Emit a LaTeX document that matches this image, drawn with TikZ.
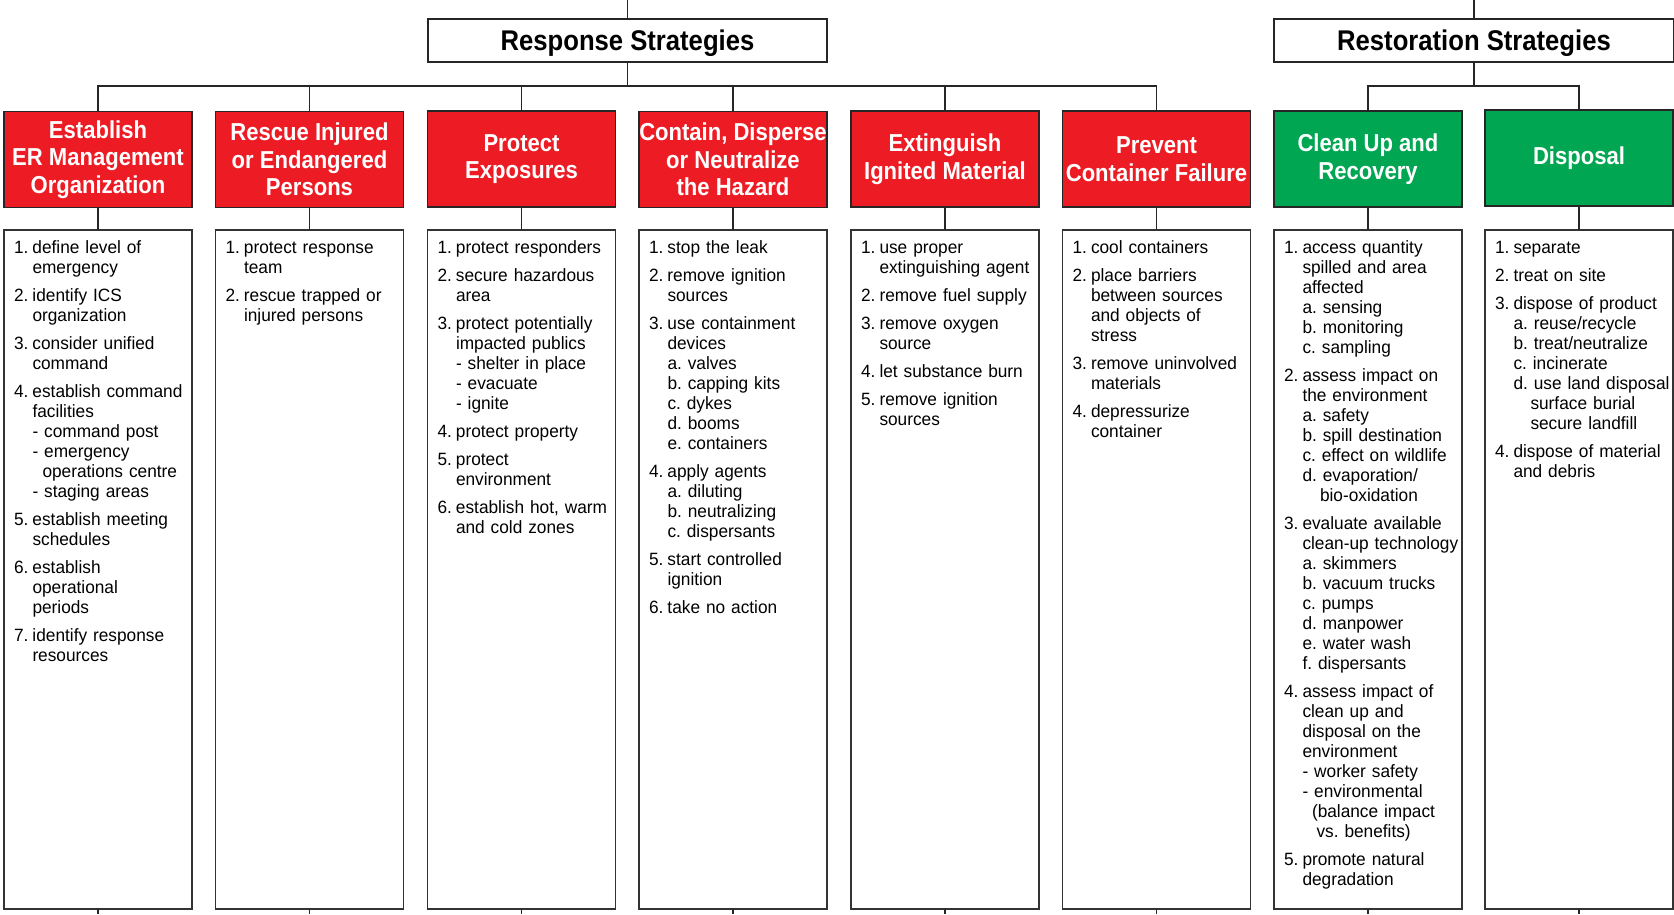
\documentclass[tikz,border=0pt]{standalone}
\usepackage{fontspec}
\usepackage{tikz}
\usetikzlibrary{positioning}
\setmainfont{Liberation Sans}
\newfontfamily\headfont{Liberation Sans}[FakeStretch=0.9]
\newfontfamily\listfont{Liberation Sans}[FakeStretch=0.97]
\definecolor{ered}{RGB}{237,28,36}
\definecolor{egreen}{RGB}{0,166,81}
\newcommand{\itm}[2]{\par\hangindent=18.5pt\hangafter=1\noindent\makebox[18.5pt][l]{\rule{0pt}{13pt}#1}{\let\\\newline#2}\par\vspace{8pt}}
\newcommand{\ind}[1]{\hspace*{#1pt}}

\begin{document}
\begin{tikzpicture}[x=1pt, y=-1pt,
  every node/.style={inner sep=0pt, outer sep=0pt},
  line/.style={draw=black!85, line width=1.3pt},
  titlebox/.style={draw=black!85, line width=1.5pt, fill=white, minimum height=43pt,
    text height=20.5pt, text depth=0pt,
    font=\headfont\bfseries\fontsize{28.5}{30}\selectfont},
  headbox/.style={draw=black!85, line width=1.5pt, minimum width=188pt, minimum height=96pt,
    text=white, align=center, font=\headfont\bfseries\fontsize{24.5}{27.5}\selectfont},
  redhead/.style={headbox, fill=ered},
  greenhead/.style={headbox, fill=egreen},
  listbox/.style={draw=black!80, line width=1.3pt, minimum width=188pt, minimum height=679pt},
  listtext/.style={below right=3pt and 10pt of #1, text width=200pt,
    font=\listfont\fontsize{17.8}{20}\selectfont\frenchspacing}]
\fill[white] (0,0) rectangle (1674,914);
\useasboundingbox (0,0) rectangle (1674,914);

\node[titlebox, minimum width=399pt] (rs) at (627.5,40.5) {Response Strategies};
\node[titlebox, minimum width=400pt] (rt) at (1474,40.5) {Restoration Strategies};

\node[redhead] (h1) at (98,159.5) {Establish\\ER Management\\Organization};
\node[redhead] (h2) at (309.5,159.5) {Rescue Injured\\or Endangered\\Persons};
\node[redhead] (h3) at (521.5,159) {Protect\\Exposures};
\node[redhead] (h4) at (733,159.5) {Contain, Disperse\\or Neutralize\\the Hazard};
\node[redhead] (h5) at (945,159) {Extinguish\\Ignited Material};
\node[redhead] (h6) at (1156.5,159) {Prevent\\Container Failure};
\node[greenhead] (h7) at (1368,159) {Clean Up and\\Recovery};
\node[greenhead] (h8) at (1579,158) {Disposal};

\node[listbox] (b1) at (98,569.5) {};
\node[listbox] (b2) at (309.5,569.5) {};
\node[listbox] (b3) at (521.5,569.5) {};
\node[listbox] (b4) at (733,569.5) {};
\node[listbox] (b5) at (945,569.5) {};
\node[listbox] (b6) at (1156.5,569.5) {};
\node[listbox] (b7) at (1368,569.5) {};
\node[listbox] (b8) at (1579,569.5) {};

\node[listtext=b1.north west] (t1) {
  \itm{1.}{define level of\\emergency}
  \itm{2.}{identify ICS\\organization}
  \itm{3.}{consider unified\\command}
  \itm{4.}{establish command\\facilities\\- command post\\- emergency\\\ind{10}operations centre\\- staging areas}
  \itm{5.}{establish meeting\\schedules}
  \itm{6.}{establish\\operational\\periods}
  \itm{7.}{identify response\\resources}};
\node[listtext=b2.north west] (t2) {
  \itm{1.}{protect response\\team}
  \itm{2.}{rescue trapped or\\injured persons}};
\node[listtext=b3.north west] (t3) {
  \itm{1.}{protect responders}
  \itm{2.}{secure hazardous\\area}
  \itm{3.}{protect potentially\\impacted publics\\- shelter in place\\- evacuate\\- ignite}
  \itm{4.}{protect property}
  \itm{5.}{protect\\environment}
  \itm{6.}{establish hot, warm\\and cold zones}};
\node[listtext=b4.north west] (t4) {
  \itm{1.}{stop the leak}
  \itm{2.}{remove ignition\\sources}
  \itm{3.}{use containment\\devices\\a. valves\\b. capping kits\\c. dykes\\d. booms\\e. containers}
  \itm{4.}{apply agents\\a. diluting\\b. neutralizing\\c. dispersants}
  \itm{5.}{start controlled\\ignition}
  \itm{6.}{take no action}};
\node[listtext=b5.north west] (t5) {
  \itm{1.}{use proper\\extinguishing agent}
  \itm{2.}{remove fuel supply}
  \itm{3.}{remove oxygen\\source}
  \itm{4.}{let substance burn}
  \itm{5.}{remove ignition\\sources}};
\node[listtext=b6.north west] (t6) {
  \itm{1.}{cool containers}
  \itm{2.}{place barriers\\between sources\\and objects of\\stress}
  \itm{3.}{remove uninvolved\\materials}
  \itm{4.}{depressurize\\container}};
\node[listtext=b7.north west] (t7) {
  \itm{1.}{access quantity\\spilled and area\\affected\\a. sensing\\b. monitoring\\c. sampling}
  \itm{2.}{assess impact on\\the environment\\a. safety\\b. spill destination\\c. effect on wildlife\\d. evaporation/\\\ind{17.5}bio-oxidation}
  \itm{3.}{evaluate available\\clean-up technology\\a. skimmers\\b. vacuum trucks\\c. pumps\\d. manpower\\e. water wash\\f. dispersants}
  \itm{4.}{assess impact of\\clean up and\\disposal on the\\environment\\- worker safety\\- environmental\\\ind{9.5}(balance impact\\\ind{14}vs. benefits)}
  \itm{5.}{promote natural\\degradation}};
\node[listtext=b8.north west] (t8) {
  \itm{1.}{separate}
  \itm{2.}{treat on site}
  \itm{3.}{dispose of product\\a. reuse/recycle\\b. treat/neutralize\\c. incinerate\\d. use land disposal\\\ind{17}surface burial\\\ind{17}secure landfill}
  \itm{4.}{dispose of material\\and debris}};

\coordinate (top1) at (627.5,0);
\coordinate (top2) at (1474,0);
\coordinate (bus1) at (627.5,86);
\coordinate (bus2) at (1474,86);
\coordinate (foot) at (0,914);

\draw[line] (top1) to (rs);
\draw[line] (rs) to (bus1);
\draw[line] (h1.north) |- (bus1) -| (h6.north);
\draw[line] (h2) to (h2 |- bus1);
\draw[line] (h3) to (h3 |- bus1);
\draw[line] (h4) to (h4 |- bus1);
\draw[line] (h5) to (h5 |- bus1);
\draw[line] (top2) to (rt);
\draw[line] (rt) to (bus2);
\draw[line] (h7.north) |- (bus2) -| (h8.north);

\draw[line] (h1) to (b1);
\draw[line] (h2) to (b2);
\draw[line] (h3) to (b3);
\draw[line] (h4) to (b4);
\draw[line] (h5) to (b5);
\draw[line] (h6) to (b6);
\draw[line] (h7) to (b7);
\draw[line] (h8) to (b8);
\draw[line] (b1) to (b1 |- foot);
\draw[line] (b2) to (b2 |- foot);
\draw[line] (b3) to (b3 |- foot);
\draw[line] (b4) to (b4 |- foot);
\draw[line] (b5) to (b5 |- foot);
\draw[line] (b6) to (b6 |- foot);
\draw[line] (b7) to (b7 |- foot);
\draw[line] (b8) to (b8 |- foot);
\end{tikzpicture}
\end{document}
